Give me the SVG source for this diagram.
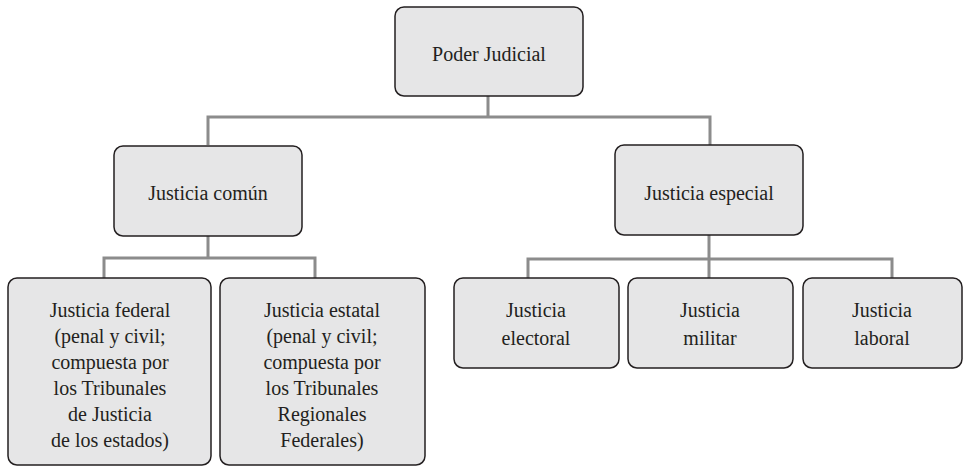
<svg xmlns="http://www.w3.org/2000/svg" width="963" height="467" viewBox="0 0 963 467">
<style>
.box{fill:#e6e6e7;stroke:#231f20;stroke-width:1.5}
.c{fill:none;stroke:#8c8c8c;stroke-width:3}
</style>
<rect width="963" height="467" fill="#ffffff"/>
<g id="connectors">
<path class="c" d="M488 96 V117 M208 145 V117 H710 V145"/>
<path class="c" d="M208 236 V258 M104 278 V258 H315 V278"/>
<path class="c" d="M709 235 V259 M528 278 V259 H892 V278 M709 259 V278"/>
</g>
<g font-family="Liberation Serif, DejaVu Serif, serif" font-size="20" fill="#231f20" text-anchor="middle">
<g id="poder-judicial">
<rect class="box" x="395" y="7" width="188" height="89" rx="9"/>
<text x="489" y="61">Poder Judicial</text>
</g>
<g id="justicia-comun">
<rect class="box" x="114" y="146" width="188" height="90" rx="9"/>
<text x="208" y="200">Justicia común</text>
</g>
<g id="justicia-especial">
<rect class="box" x="615" y="145" width="188" height="90" rx="9"/>
<text x="709" y="200">Justicia especial</text>
</g>
<g id="justicia-federal">
<rect class="box" x="8" y="278" width="203" height="187" rx="9"/>
<text x="110" y="317">Justicia federal</text>
<text x="110" y="343">(penal y civil;</text>
<text x="110" y="369">compuesta por</text>
<text x="110" y="395">los Tribunales</text>
<text x="110" y="421">de Justicia</text>
<text x="110" y="447">de los estados)</text>
</g>
<g id="justicia-estatal">
<rect class="box" x="220" y="278" width="205" height="187" rx="9"/>
<text x="322" y="317">Justicia estatal</text>
<text x="322" y="343">(penal y civil;</text>
<text x="322" y="369">compuesta por</text>
<text x="322" y="395">los Tribunales</text>
<text x="322" y="421">Regionales</text>
<text x="322" y="447">Federales)</text>
</g>
<g id="justicia-electoral">
<rect class="box" x="454" y="278" width="165" height="90" rx="9"/>
<text x="536" y="317">Justicia</text>
<text x="536" y="345">electoral</text>
</g>
<g id="justicia-militar">
<rect class="box" x="628" y="278" width="165" height="90" rx="9"/>
<text x="710" y="317">Justicia</text>
<text x="710" y="345">militar</text>
</g>
<g id="justicia-laboral">
<rect class="box" x="803" y="278" width="159" height="90" rx="9"/>
<text x="882" y="317">Justicia</text>
<text x="882" y="345">laboral</text>
</g>
</g>
</svg>
